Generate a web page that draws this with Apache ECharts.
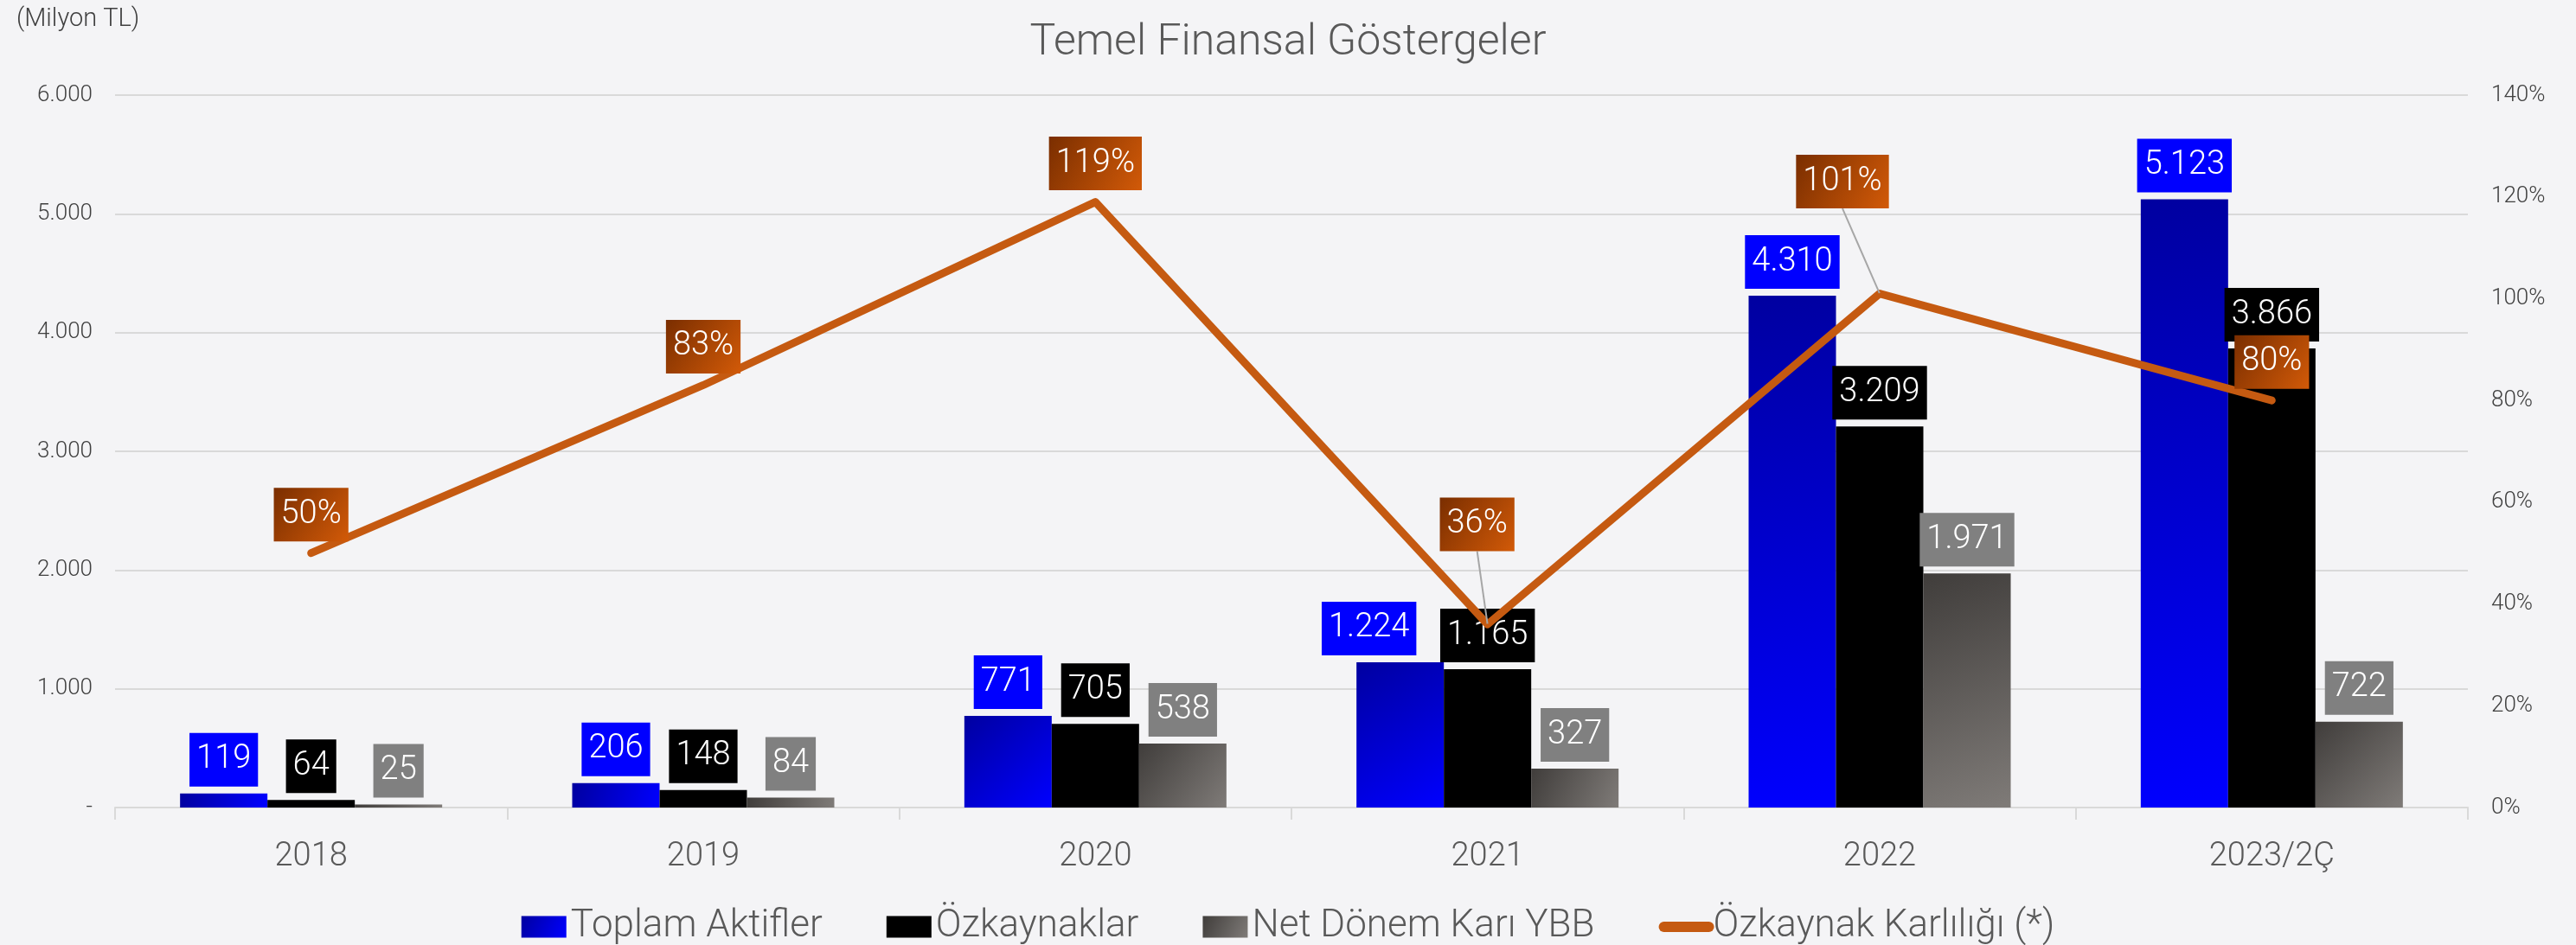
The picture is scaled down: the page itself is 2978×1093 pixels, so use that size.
<!DOCTYPE html>
<html>
<head>
<meta charset="utf-8">
<title>Temel Finansal Göstergeler</title>
<script src="https://cdn.jsdelivr.net/npm/echarts@6/dist/echarts.min.js"></script>
<style>
  html, body { margin: 0; padding: 0; background: #f4f4f6; }
  #chart { width: 2978px; height: 1093px; }
</style>
</head>
<body>
<div id="chart"></div>
<script>
// data
const years = ['2018', '2019', '2020', '2021', '2022', '2023/2Ç'];
const toplamAktifler = [119, 206, 771, 1224, 4310, 5123];
const ozkaynaklar = [64, 148, 705, 1165, 3209, 3866];
const netDonemKari = [25, 84, 538, 327, 1971, 722];
const ozkaynakKarliligi = [50, 83, 119, 36, 101, 80]; // %

const FONT = 'Roboto, "Noto Sans", sans-serif';

function fmtTL(v) {
  if (v === 0) return '-';
  return String(v).replace(/\B(?=(\d{3})+(?!\d))/g, '.');
}

function barLabel(bg) {
  return {
    show: true,
    position: 'top',
    distance: 8,
    color: '#fff',
    fontFamily: FONT,
    fontWeight: 300,
    fontSize: 38,
    lineHeight: 40,
    padding: [11, 8],
    backgroundColor: bg,
    formatter: p => fmtTL(p.value),
  };
}

const orangeGrad = new echarts.graphic.LinearGradient(0, 0, 1, 1, [
  { offset: 0, color: '#7a2e00' },
  { offset: 1, color: '#d25a08' },
]);

// labels that were nudged away from their default spot
const movedLineLabels = { 3: { dx: -12, dy: -71 }, 4: { dx: -43, dy: -85 } };
const movedBlueLabels = { 3: { dx: -36 } };

const chart = echarts.init(document.getElementById('chart'));

chart.setOption({
  backgroundColor: '#f4f4f6',
  animation: false,
  title: [
    {
      text: 'Temel Finansal Göstergeler',
      left: 'center',
      top: 20,
      textStyle: { color: '#595959', fontFamily: FONT, fontWeight: 300, fontSize: 50 },
    },
    {
      text: '(Milyon TL)',
      left: 14,
      top: 3,
      textStyle: { color: '#404040', fontFamily: FONT, fontWeight: 300, fontSize: 29 },
    },
  ],
  legend: {
    top: 1045,
    left: 'center',
    itemWidth: 52,
    itemHeight: 25,
    itemGap: 74,
    textStyle: { color: '#595959', fontFamily: FONT, fontWeight: 300, fontSize: 44 },
    data: [
      { name: 'Toplam Aktifler', icon: 'rect' },
      { name: 'Özkaynaklar', icon: 'rect' },
      { name: 'Net Dönem Karı YBB', icon: 'rect' },
      {
        name: 'Özkaynak Karlılığı (*)',
        itemStyle: { opacity: 0 },
        lineStyle: { width: 12, cap: 'round', color: '#c55a11', opacity: 1 },
      },
    ],
  },
  grid: { left: 133, right: 125, top: 110, bottom: 159 },
  xAxis: {
    type: 'category',
    data: years,
    axisLine: { lineStyle: { color: '#d9d9d9', width: 2 } },
    axisTick: { show: true, length: 14, lineStyle: { color: '#d9d9d9', width: 2 } },
    axisLabel: { color: '#595959', fontFamily: FONT, fontWeight: 300, fontSize: 38, margin: 38 },
  },
  yAxis: [
    {
      type: 'value',
      min: 0,
      max: 6000,
      interval: 1000,
      axisLine: { show: false },
      axisTick: { show: false },
      splitLine: { lineStyle: { color: '#d9d9d9', width: 2 } },
      axisLabel: { color: '#404040', fontFamily: FONT, fontWeight: 300, fontSize: 26, margin: 26, formatter: fmtTL },
    },
    {
      type: 'value',
      min: 0,
      max: 140,
      interval: 20,
      axisLine: { show: false },
      axisTick: { show: false },
      splitLine: { show: false },
      axisLabel: { color: '#404040', fontFamily: FONT, fontWeight: 300, fontSize: 26, margin: 27, formatter: '{value}%' },
    },
  ],
  series: [
    {
      name: 'Toplam Aktifler',
      type: 'bar',
      data: toplamAktifler,
      barWidth: 101,
      barGap: '0%',
      itemStyle: {
        color: new echarts.graphic.LinearGradient(0, 0, 1, 1, [
          { offset: 0, color: '#0000a0' },
          { offset: 1, color: '#0000ff' },
        ]),
      },
      label: barLabel('#0000ff'),
      labelLayout: p => movedBlueLabels[p.dataIndex] || {},
    },
    {
      name: 'Özkaynaklar',
      type: 'bar',
      data: ozkaynaklar,
      barWidth: 101,
      barGap: '0%',
      itemStyle: { color: '#000000' },
      label: barLabel('#000000'),
    },
    {
      name: 'Net Dönem Karı YBB',
      type: 'bar',
      data: netDonemKari,
      barWidth: 101,
      barGap: '0%',
      itemStyle: {
        color: new echarts.graphic.LinearGradient(0, 0, 1, 1, [
          { offset: 0, color: '#403d3b' },
          { offset: 1, color: '#7f7b78' },
        ]),
      },
      label: barLabel('#808080'),
    },
    {
      name: 'Özkaynak Karlılığı (*)',
      type: 'line',
      yAxisIndex: 1,
      data: ozkaynakKarliligi.map((v, i) => ({
        value: v,
        labelLine: { show: i in movedLineLabels },
      })),
      symbol: 'circle',
      symbolSize: 1,
      showSymbol: true,
      itemStyle: { color: '#c55a11' },
      lineStyle: { color: '#c55a11', width: 9, cap: 'round', join: 'round' },
      label: {
        show: true,
        position: 'top',
        distance: 13,
        color: '#fff',
        fontFamily: FONT,
        fontWeight: 300,
        fontSize: 38,
        lineHeight: 40,
        padding: [11, 8],
        backgroundColor: orangeGrad,
        formatter: '{c}%',
      },
      labelLine: { show: false, lineStyle: { color: '#a6a6a6', width: 2 } },
      labelLayout: p => movedLineLabels[p.dataIndex] || {},
      z: 5,
    },
  ],
});
</script>
</body>
</html>
